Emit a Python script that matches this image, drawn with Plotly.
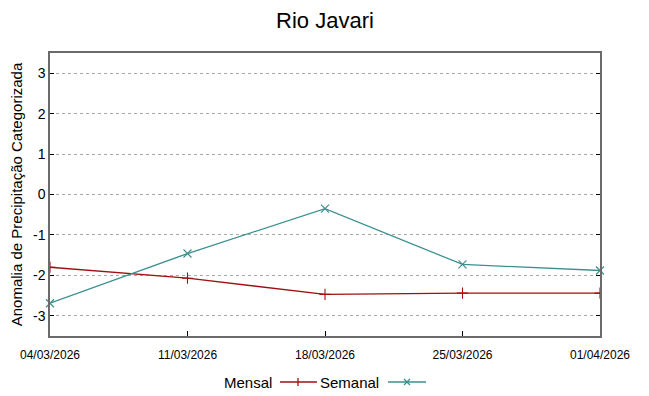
import plotly.graph_objects as go

dates = ["2026-03-04", "2026-03-11", "2026-03-18", "2026-03-25", "2026-04-01"]
tick_labels = ["04/03/2026", "11/03/2026", "18/03/2026", "25/03/2026", "01/04/2026"]
y_ticks = [-3, -2, -1, 0, 1, 2, 3]
y_tick_labels = ["-3", "-2", "-1", "0", "1", "2", "3"]
mensal = [-1.80, -2.07, -2.47, -2.44, -2.44]
semanal = [-2.69, -1.46, -0.35, -1.73, -1.88]

RED = "#a01010"
TEAL = "#3d8f8f"
FONT = "Liberation Sans"

W, H = 649, 396
OFF = 8  # page body margin
# target plot box in screen pixels
SX0, SX1, SY0, SY1 = 50, 600, 53, 336
L = SX0 - OFF
T = SY0 - OFF
R = W - (SX1 - OFF)
B = H - (SY1 - OFF)
PW, PH = W - L - R, H - T - B

fig = go.Figure()
fig.add_trace(go.Scatter(x=dates, y=mensal, mode="lines+markers", name="Mensal",
                         line=dict(color=RED, width=1.3),
                         marker=dict(symbol="cross-thin", size=8, line=dict(color=RED, width=1.1)),
                         cliponaxis=True, showlegend=False))
fig.add_trace(go.Scatter(x=dates, y=semanal, mode="lines+markers", name="Semanal",
                         line=dict(color=TEAL, width=1.3),
                         marker=dict(symbol="x-thin", size=8, line=dict(color=TEAL, width=1.2)),
                         cliponaxis=False, showlegend=False))

fig.update_layout(
    width=W, height=H,
    margin=dict(l=L, r=R, t=T, b=B, autoexpand=False),
    paper_bgcolor="white", plot_bgcolor="white",
    font=dict(family=FONT, color="black"),
    title=dict(text="Rio Javari", x=(325 - OFF) / W, xanchor="center", y=1 - (20 - OFF) / H, yanchor="middle",
               font=dict(size=22, family=FONT)),
)
fig.update_xaxes(
    type="date", range=[dates[0], dates[-1]], automargin=False,
    tickmode="array", tickvals=dates, ticktext=tick_labels,
    tickfont=dict(size=12, family=FONT), ticklabelstandoff=7,
    showgrid=False, zeroline=False,
    showline=True, linecolor="#6a6a6a", linewidth=1.5, mirror=True,
    ticks="inside", ticklen=5, tickcolor="black",
)
fig.update_yaxes(
    range=[-3.5, 3.5], tickmode="array", tickvals=y_ticks, ticktext=y_tick_labels,
    automargin=False,
    tickfont=dict(size=14, family=FONT),
    showgrid=True, gridcolor="#a8a8a8", griddash="dot", gridwidth=1,
    zeroline=False,
    showline=True, linecolor="#6a6a6a", linewidth=1.5, mirror="allticks",
    ticks="inside", ticklen=4, tickcolor="black",
    title=dict(text="Anomalia de Precipitação Categorizada", font=dict(size=15, family=FONT), standoff=8),
)

# legend (text left of sample, gnuplot style); convert screen pixel positions to paper coords
def px(x):
    return (x - OFF - L) / PW
def py(y):
    return (H - B - (y - OFF)) / PH

ly = 382
def seg(x0, y0, x1, y1, color):
    fig.add_shape(type="line", xref="paper", yref="paper", x0=px(x0), x1=px(x1), y0=py(y0), y1=py(y1),
                  line=dict(color=color, width=1.3))

fig.add_annotation(x=px(274), y=py(ly), xref="paper", yref="paper", text="Mensal",
                   showarrow=False, xanchor="right", yanchor="middle", font=dict(size=15, family=FONT))
seg(280, ly, 317, ly, RED)
seg(298, ly - 4, 298, ly + 4, RED)
fig.add_annotation(x=px(381), y=py(ly), xref="paper", yref="paper", text="Semanal",
                   showarrow=False, xanchor="right", yanchor="middle", font=dict(size=15, family=FONT))
seg(388, ly, 426, ly, TEAL)
seg(404, ly - 3, 410, ly + 3, TEAL)
seg(404, ly + 3, 410, ly - 3, TEAL)

fig.write_html("out.html")
